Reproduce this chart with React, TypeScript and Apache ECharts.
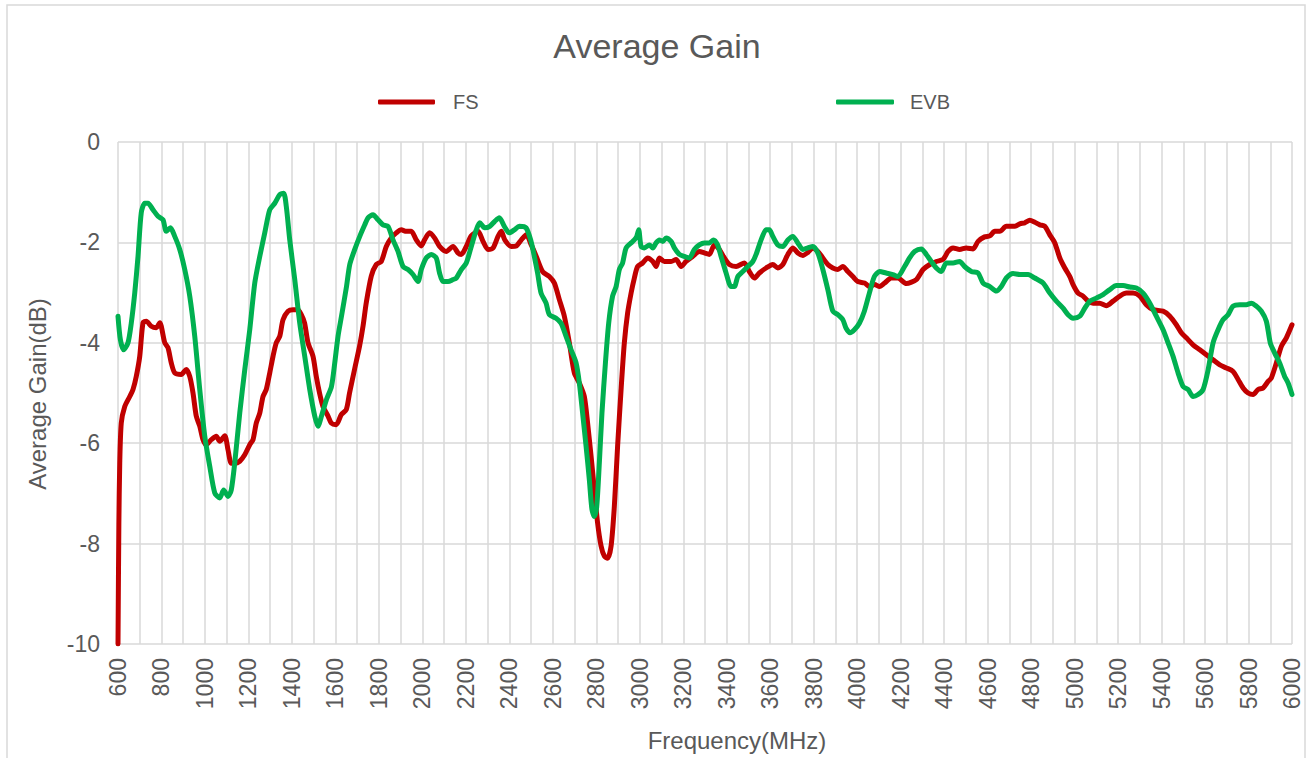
import React, { useEffect, useRef } from "react";
import * as echarts from "echarts";

const freqFS = [600, 604, 608, 615, 631, 654, 669, 684, 700, 715, 730, 753, 776, 792, 815, 830, 845, 861, 891, 914, 930, 945, 960, 976, 991, 1006, 1029, 1052, 1068, 1091, 1106, 1121, 1137, 1160, 1183, 1206, 1221, 1236, 1252, 1267, 1282, 1298, 1313, 1328, 1344, 1359, 1382, 1405, 1428, 1443, 1458, 1474, 1497, 1512, 1527, 1543, 1566, 1581, 1604, 1627, 1650, 1665, 1688, 1711, 1727, 1742, 1765, 1788, 1811, 1834, 1857, 1880, 1903, 1926, 1949, 1972, 1995, 2010, 2033, 2056, 2079, 2110, 2141, 2164, 2179, 2202, 2225, 2256, 2279, 2302, 2325, 2348, 2363, 2379, 2409, 2432, 2455, 2478, 2501, 2524, 2553, 2584, 2607, 2630, 2653, 2676, 2699, 2722, 2745, 2760, 2776, 2791, 2806, 2822, 2837, 2852, 2868, 2883, 2898, 2914, 2929, 2944, 2960, 2975, 2990, 3013, 3036, 3060, 3075, 3090, 3113, 3144, 3167, 3190, 3213, 3243, 3274, 3297, 3320, 3343, 3366, 3389, 3412, 3443, 3481, 3504, 3527, 3550, 3581, 3612, 3635, 3658, 3681, 3704, 3727, 3750, 3773, 3796, 3819, 3842, 3865, 3888, 3911, 3934, 3957, 3980, 4003, 4034, 4057, 4080, 4103, 4126, 4157, 4187, 4226, 4272, 4303, 4334, 4364, 4395, 4418, 4441, 4471, 4502, 4533, 4556, 4586, 4610, 4633, 4656, 4686, 4725, 4748, 4771, 4794, 4817, 4840, 4863, 4886, 4909, 4932, 4955, 4978, 4993, 5016, 5039, 5062, 5085, 5116, 5146, 5177, 5208, 5238, 5269, 5300, 5330, 5361, 5407, 5438, 5468, 5491, 5514, 5545, 5576, 5606, 5637, 5668, 5698, 5729, 5752, 5775, 5798, 5821, 5844, 5867, 5890, 5905, 5928, 5951, 5974, 6000];
const gainFS = [-10, -7.6, -6.4, -5.6, -5.27, -5.07, -4.93, -4.67, -4.27, -3.6, -3.57, -3.67, -3.7, -3.6, -4.0, -4.1, -4.4, -4.6, -4.63, -4.53, -4.67, -5.0, -5.46, -5.66, -5.93, -6.03, -5.93, -5.86, -5.96, -5.85, -6.13, -6.4, -6.4, -6.36, -6.23, -6.03, -5.93, -5.6, -5.4, -5.07, -4.93, -4.6, -4.27, -4.0, -3.87, -3.54, -3.37, -3.34, -3.34, -3.44, -3.6, -4.0, -4.27, -4.67, -5.0, -5.27, -5.46, -5.6, -5.63, -5.43, -5.33, -5.0, -4.53, -4.07, -3.67, -3.2, -2.67, -2.44, -2.38, -2.08, -1.91, -1.81, -1.75, -1.78, -1.78, -1.95, -2.07, -1.95, -1.81, -1.91, -2.08, -2.18, -2.08, -2.21, -2.24, -2.08, -1.87, -1.78, -1.98, -2.14, -2.11, -1.88, -1.78, -1.95, -2.08, -2.07, -1.95, -1.85, -2.05, -2.28, -2.58, -2.68, -2.81, -3.14, -3.47, -4.0, -4.6, -4.8, -5.07, -5.6, -6.26, -6.93, -7.59, -8.05, -8.25, -8.29, -8.05, -7.26, -6.06, -4.93, -4.0, -3.41, -3.01, -2.71, -2.48, -2.41, -2.31, -2.38, -2.48, -2.31, -2.38, -2.38, -2.34, -2.48, -2.38, -2.28, -2.18, -2.21, -2.24, -2.05, -2.14, -2.31, -2.44, -2.48, -2.41, -2.58, -2.71, -2.61, -2.51, -2.44, -2.51, -2.44, -2.24, -2.11, -2.21, -2.26, -2.2, -2.11, -2.18, -2.31, -2.44, -2.51, -2.54, -2.48, -2.58, -2.68, -2.78, -2.81, -2.88, -2.84, -2.88, -2.81, -2.71, -2.71, -2.82, -2.74, -2.54, -2.44, -2.38, -2.34, -2.18, -2.11, -2.14, -2.11, -2.13, -1.98, -1.89, -1.87, -1.78, -1.78, -1.68, -1.68, -1.63, -1.61, -1.56, -1.6, -1.65, -1.68, -1.85, -2.01, -2.31, -2.51, -2.68, -2.84, -3.01, -3.07, -3.17, -3.21, -3.21, -3.26, -3.17, -3.07, -3.01, -3.01, -3.07, -3.24, -3.34, -3.37, -3.47, -3.64, -3.8, -3.9, -4.04, -4.14, -4.24, -4.34, -4.44, -4.5, -4.57, -4.73, -4.9, -5.0, -5.03, -4.93, -4.9, -4.77, -4.7, -4.4, -4.07, -3.9, -3.64];

const freqEVB = [600, 611, 626, 646, 661, 677, 692, 707, 723, 738, 761, 784, 807, 822, 841, 861, 884, 907, 930, 953, 976, 999, 1022, 1045, 1068, 1086, 1106, 1121, 1137, 1160, 1183, 1206, 1229, 1252, 1275, 1298, 1321, 1344, 1362, 1374, 1390, 1413, 1436, 1459, 1482, 1505, 1520, 1536, 1559, 1582, 1597, 1612, 1628, 1651, 1666, 1689, 1712, 1735, 1750, 1773, 1796, 1819, 1842, 1865, 1888, 1911, 1934, 1957, 1980, 1995, 2018, 2041, 2064, 2079, 2095, 2118, 2141, 2156, 2179, 2202, 2225, 2248, 2264, 2287, 2310, 2333, 2354, 2377, 2400, 2423, 2446, 2477, 2500, 2515, 2530, 2546, 2569, 2584, 2615, 2638, 2661, 2684, 2707, 2722, 2737, 2753, 2768, 2780, 2791, 2802, 2814, 2826, 2842, 2857, 2875, 2891, 2906, 2921, 2937, 2960, 2975, 2986, 2995, 3006, 3021, 3044, 3060, 3075, 3090, 3106, 3121, 3144, 3159, 3182, 3205, 3228, 3251, 3274, 3297, 3320, 3339, 3358, 3374, 3397, 3420, 3435, 3451, 3474, 3497, 3520, 3535, 3558, 3581, 3596, 3612, 3635, 3658, 3681, 3704, 3727, 3750, 3773, 3796, 3819, 3842, 3865, 3888, 3911, 3934, 3949, 3967, 3987, 4010, 4033, 4056, 4079, 4103, 4133, 4164, 4187, 4218, 4241, 4264, 4295, 4318, 4341, 4364, 4387, 4410, 4441, 4471, 4494, 4525, 4556, 4579, 4610, 4640, 4663, 4686, 4717, 4748, 4786, 4817, 4855, 4886, 4916, 4947, 4970, 4993, 5024, 5047, 5070, 5100, 5131, 5162, 5192, 5223, 5254, 5284, 5315, 5346, 5376, 5407, 5430, 5453, 5476, 5499, 5522, 5545, 5568, 5591, 5614, 5637, 5660, 5683, 5706, 5729, 5760, 5790, 5813, 5836, 5859, 5882, 5900, 5920, 5943, 5966, 5982, 6000];
const gainEVB = [-3.47, -3.94, -4.14, -4.0, -3.61, -3.01, -2.28, -1.41, -1.22, -1.22, -1.35, -1.48, -1.55, -1.78, -1.71, -1.88, -2.14, -2.54, -3.07, -3.87, -4.93, -5.86, -6.46, -6.99, -7.09, -6.93, -7.06, -6.93, -6.39, -5.4, -4.54, -3.74, -2.81, -2.28, -1.81, -1.35, -1.22, -1.05, -1.02, -1.28, -1.95, -2.74, -3.61, -4.27, -4.93, -5.46, -5.66, -5.46, -5.13, -4.87, -4.4, -3.87, -3.47, -2.88, -2.44, -2.14, -1.88, -1.65, -1.51, -1.45, -1.55, -1.65, -1.68, -1.95, -2.18, -2.48, -2.54, -2.64, -2.78, -2.54, -2.31, -2.24, -2.31, -2.61, -2.78, -2.78, -2.74, -2.71, -2.54, -2.41, -2.08, -1.75, -1.61, -1.71, -1.68, -1.58, -1.51, -1.68, -1.81, -1.75, -1.68, -1.71, -1.98, -2.28, -2.61, -3.01, -3.21, -3.44, -3.51, -3.61, -3.87, -4.14, -4.4, -4.8, -5.4, -6.06, -6.73, -7.32, -7.46, -7.26, -6.39, -5.4, -4.4, -3.61, -3.07, -2.88, -2.54, -2.41, -2.11, -2.01, -1.95, -1.88, -1.75, -2.08, -2.11, -2.05, -2.11, -2.01, -1.95, -1.98, -1.91, -1.98, -2.11, -2.24, -2.28, -2.31, -2.14, -2.05, -2.01, -2.01, -1.95, -2.05, -2.28, -2.61, -2.88, -2.88, -2.68, -2.58, -2.48, -2.38, -2.24, -1.95, -1.75, -1.75, -1.88, -2.05, -2.08, -1.95, -1.88, -2.01, -2.14, -2.11, -2.08, -2.21, -2.54, -2.94, -3.37, -3.44, -3.54, -3.71, -3.8, -3.74, -3.61, -3.37, -3.01, -2.68, -2.58, -2.61, -2.64, -2.68, -2.48, -2.31, -2.18, -2.13, -2.24, -2.38, -2.51, -2.58, -2.41, -2.41, -2.38, -2.48, -2.58, -2.61, -2.81, -2.88, -2.97, -2.88, -2.71, -2.62, -2.64, -2.64, -2.71, -2.81, -3.01, -3.17, -3.31, -3.44, -3.51, -3.47, -3.31, -3.17, -3.11, -3.04, -2.94, -2.86, -2.86, -2.89, -2.91, -3.01, -3.21, -3.47, -3.74, -4.0, -4.27, -4.6, -4.87, -4.93, -5.07, -5.03, -4.93, -4.54, -4.0, -3.74, -3.54, -3.44, -3.27, -3.24, -3.24, -3.21, -3.27, -3.37, -3.57, -4.0, -4.2, -4.4, -4.67, -4.8, -5.03];

const seriesNames = ["FS", "EVB"];
const seriesColors = ["#C00000", "#00B050"];
const chartTitle = "Average Gain";
const xAxisTitle = "Frequency(MHz)";
const yAxisTitle = "Average Gain(dB)";

const FONT = "'Liberation Sans', Arial, sans-serif";
const TEXT = "#595959";
const GRID = "#d9d9d9";

function zip(xs: number[], ys: number[]) {
  return xs.map((x, i) => [x, ys[i]]);
}

export default function App() {
  const ref = useRef<HTMLDivElement>(null);
  useEffect(() => {
    if (!ref.current) return;
    const chart = echarts.init(ref.current, undefined, { renderer: "svg" });
    chart.setOption({
      animation: false,
      backgroundColor: "#ffffff",
      textStyle: { fontFamily: FONT },
      title: {
        text: chartTitle,
        left: "center",
        top: 24,
        textStyle: { fontSize: 34, fontWeight: "normal", color: TEXT, fontFamily: FONT },
      },
      legend: [
        {
          data: [seriesNames[0]],
          left: 373,
          top: 87,
          icon: "roundRect",
          itemWidth: 57,
          itemHeight: 5,
          textStyle: { fontSize: 20, color: TEXT, fontFamily: FONT, padding: [0, 0, 0, 13] },
        },
        {
          data: [seriesNames[1]],
          left: 831,
          top: 87,
          icon: "roundRect",
          itemWidth: 58,
          itemHeight: 5,
          textStyle: { fontSize: 20, color: TEXT, fontFamily: FONT, padding: [0, 0, 0, 11] },
        },
      ],
      grid: { left: 118, top: 142, width: 1174, height: 502, containLabel: false },
      xAxis: {
        type: "value",
        min: 600,
        max: 6000,
        interval: 200,
        axisLine: { show: false },
        axisTick: { show: false },
        minorTick: { show: false, splitNumber: 2 },
        splitLine: { show: true, lineStyle: { color: GRID, width: 1.5 } },
        minorSplitLine: { show: true, lineStyle: { color: GRID, width: 1.5 } },
        axisLabel: {
          rotate: 90,
          margin: 14,
          fontSize: 23,
          color: TEXT,
          fontFamily: FONT,
          showMinLabel: true,
          showMaxLabel: true,
          formatter: (v: number) => String(v),
        },
      },
      yAxis: {
        type: "value",
        min: -10,
        max: 0,
        interval: 2,
        axisLine: { show: false },
        axisTick: { show: false },
        splitLine: { show: true, lineStyle: { color: GRID, width: 1.5 } },
        axisLabel: { margin: 18, fontSize: 23, color: TEXT, fontFamily: FONT },
      },
      graphic: [
        {
          type: "rect",
          silent: true,
          z: -10,
          shape: { x: 7, y: 5, width: 1298, height: 800 },
          style: { fill: "none", stroke: GRID, lineWidth: 1.5 },
        },
        {
          type: "text",
          x: 737,
          y: 740,
          style: {
            text: xAxisTitle,
            fontSize: 24,
            fill: TEXT,
            fontFamily: FONT,
            textAlign: "center",
            textVerticalAlign: "middle",
          },
        },
        {
          type: "text",
          x: 37,
          y: 394,
          rotation: Math.PI / 2,
          style: {
            text: yAxisTitle,
            fontSize: 24,
            fill: TEXT,
            fontFamily: FONT,
            textAlign: "center",
            textVerticalAlign: "middle",
          },
        },
      ],
      series: [
        {
          name: seriesNames[0],
          type: "line",
          data: zip(freqFS, gainFS),
          showSymbol: false,
          symbol: "none",
          smooth: 0.25,
          color: seriesColors[0],
          lineStyle: { color: seriesColors[0], width: 5, cap: "round", join: "round" },
        },
        {
          name: seriesNames[1],
          type: "line",
          data: zip(freqEVB, gainEVB),
          showSymbol: false,
          symbol: "none",
          smooth: 0.25,
          color: seriesColors[1],
          lineStyle: { color: seriesColors[1], width: 5, cap: "round", join: "round" },
        },
      ],
    });
    return () => chart.dispose();
  }, []);
  return (
    <div
      ref={ref}
      style={{ position: "absolute", left: 0, top: 0, width: 1314, height: 758, background: "#fff" }}
    />
  );
}
